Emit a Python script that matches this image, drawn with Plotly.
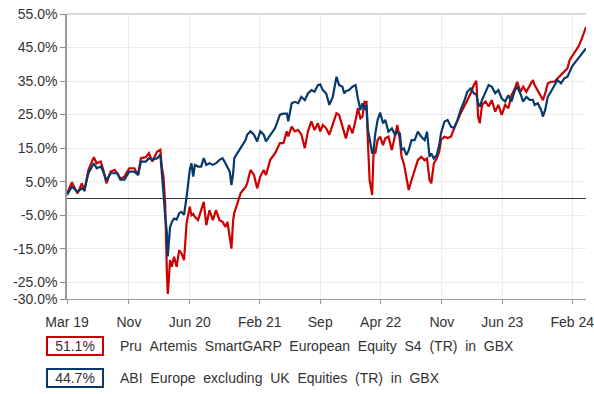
import plotly.graph_objects as go

# Cumulative total return (%) of the fund and its sector average
dates = [
    "2019-03-29", "2019-04-15", "2019-05-05", "2019-05-20", "2019-05-29", "2019-06-12",
    "2019-07-01", "2019-07-11", "2019-07-25", "2019-08-03", "2019-08-14", "2019-08-29",
    "2019-09-12", "2019-09-21", "2019-10-02", "2019-10-16", "2019-11-02", "2019-11-20",
    "2019-12-03", "2019-12-13", "2019-12-30", "2020-01-10", "2020-01-22", "2020-02-08",
    "2020-02-19", "2020-02-24", "2020-03-01", "2020-03-07", "2020-03-13", "2020-03-16",
    "2020-03-18", "2020-03-24", "2020-03-30", "2020-04-07", "2020-04-16", "2020-04-25",
    "2020-05-03", "2020-05-12", "2020-05-21", "2020-06-01", "2020-06-07", "2020-06-13",
    "2020-06-19", "2020-06-30", "2020-07-11", "2020-07-20", "2020-07-29", "2020-08-09",
    "2020-08-21", "2020-09-01", "2020-09-13", "2020-09-24", "2020-10-04", "2020-10-11",
    "2020-10-19", "2020-10-25", "2020-10-31", "2020-11-04", "2020-11-15", "2020-11-26",
    "2020-12-14", "2020-12-19", "2020-12-31", "2021-01-12", "2021-01-23", "2021-02-03",
    "2021-02-15", "2021-02-23", "2021-03-10", "2021-03-27", "2021-04-13", "2021-04-25",
    "2021-05-07", "2021-05-12", "2021-05-24", "2021-06-04", "2021-06-16", "2021-06-27",
    "2021-07-09", "2021-07-20", "2021-08-01", "2021-08-12", "2021-08-24", "2021-09-01",
    "2021-09-10", "2021-09-22", "2021-10-03", "2021-10-15", "2021-10-28", "2021-11-06",
    "2021-11-18", "2021-11-24", "2021-11-30", "2021-12-11", "2021-12-23", "2022-01-03",
    "2022-01-11", "2022-01-20", "2022-01-27", "2022-02-03", "2022-02-10", "2022-02-15",
    "2022-02-21", "2022-03-02", "2022-03-07", "2022-03-13", "2022-03-21", "2022-03-30",
    "2022-04-09", "2022-04-17", "2022-04-28", "2022-05-10", "2022-05-21", "2022-05-29",
    "2022-06-07", "2022-06-13", "2022-06-21", "2022-06-30", "2022-07-08", "2022-07-18",
    "2022-07-29", "2022-08-09", "2022-08-21", "2022-09-02", "2022-09-10", "2022-09-19",
    "2022-09-25", "2022-10-04", "2022-10-14", "2022-10-23", "2022-10-29", "2022-11-10",
    "2022-11-21", "2022-12-03", "2022-12-14", "2022-12-26", "2023-01-06", "2023-01-18",
    "2023-01-29", "2023-02-10", "2023-02-21", "2023-03-02", "2023-03-08", "2023-03-14",
    "2023-03-22", "2023-04-03", "2023-04-14", "2023-04-25", "2023-05-07", "2023-05-18",
    "2023-05-30", "2023-06-11", "2023-06-22", "2023-07-03", "2023-07-15", "2023-07-23",
    "2023-08-03", "2023-08-13", "2023-08-24", "2023-09-05", "2023-09-16", "2023-09-22",
    "2023-10-03", "2023-10-15", "2023-10-21", "2023-10-29", "2023-11-07", "2023-11-18",
    "2023-11-30", "2023-12-11", "2023-12-23", "2024-01-04", "2024-01-15", "2024-01-23",
    "2024-02-01", "2024-02-13", "2024-02-24", "2024-03-07", "2024-03-20",
]

fund_returns = [
    1.5, 4.8, 1.5, 4.5, 2.2, 8.5,
    12.3, 10.5, 11.0, 8.5, 4.5, 8.0,
    8.5, 7.5, 5.9, 6.5, 9.0, 9.0,
    7.0, 12.0, 12.3, 13.5, 11.0, 14.0,
    14.5, 9.5, 6.5, -1.5, -22.5, -28.5,
    -26.5, -18.4, -20.4, -17.4, -20.4, -15.4,
    -16.4, -18.4, -7.4, -2.5, -5.0, -4.6,
    -5.5, -6.5, -3.5, -1.0, -8.0, -3.5,
    -6.5, -3.5, -6.5, -7.0, -8.5, -7.0,
    -11.5, -15.0, -6.5, -4.3, -1.5, 1.5,
    3.5, 4.5, 8.5, 7.0, 3.0, 6.5,
    8.5, 7.0, 11.5, 13.5, 16.5, 16.5,
    20.0, 18.5, 21.4, 20.0, 20.4, 19.0,
    15.0, 20.0, 23.0, 20.4, 22.4, 20.0,
    21.9, 20.9, 19.0, 21.9, 25.4, 24.9,
    21.4, 19.0, 17.9, 21.9, 19.4, 23.4,
    26.9, 23.9, 24.4, 28.8, 28.8, 16.9,
    5.5, 1.0, 14.4, 13.4, 17.4, 18.4,
    15.9, 17.9, 18.4, 14.4, 19.4, 21.9,
    17.4, 12.4, 10.4, 5.5, 2.5, 5.5,
    8.5, 11.4, 12.4, 11.4, 11.9, 5.5,
    4.5, 10.4, 11.9, 13.9, 17.4, 18.4,
    18.0, 18.4, 20.9, 23.4, 25.4, 27.4,
    29.3, 31.3, 33.8, 35.1, 24.4, 22.4,
    27.9, 28.9, 27.4, 29.3, 25.9, 27.9,
    24.9, 27.9, 26.9, 30.8, 32.8, 34.8,
    31.8, 33.3, 31.8, 33.8, 35.3, 33.8,
    32.3, 30.3, 29.3, 31.3, 34.3, 34.8,
    34.8, 35.8, 36.8, 37.8, 38.8, 41.3,
    42.5, 44.0, 45.5, 48.0, 51.1,
]

sector_returns = [
    1.0, 3.5, 2.0, 3.0, 2.5, 7.5,
    10.5, 9.0, 9.5, 8.0, 5.4, 7.5,
    7.5, 7.5, 5.6, 5.6, 8.0, 8.0,
    7.0, 11.0, 11.0, 12.0, 11.5, 12.0,
    13.0, 8.5, 1.5, -5.5, -10.3, -17.3,
    -14.3, -8.6, -7.1, -6.0, -6.3, -4.4,
    -4.0, -4.9, 0.5, 8.5, 10.5, 6.5,
    10.0, 9.5, 9.5, 12.0, 10.0, 10.5,
    10.0, 10.5, 11.5, 12.0, 10.5, 9.5,
    8.0, 4.0, 7.5, 12.0, 13.5, 15.0,
    17.5, 19.0, 20.0, 19.0, 17.0, 20.0,
    19.0, 17.0, 19.0, 21.0, 25.0, 25.3,
    25.3, 23.0, 28.4, 28.8, 28.4, 30.3,
    29.3, 31.3, 32.3, 31.8, 33.8, 34.0,
    32.3, 31.3, 27.9, 30.3, 36.3, 33.8,
    33.3, 31.3, 32.0, 32.3, 33.3, 33.8,
    29.8, 26.4, 28.4, 26.4, 27.9, 20.4,
    17.9, 13.4, 14.4, 19.4, 23.4, 25.6,
    22.4, 23.4, 19.9, 20.9, 18.9, 19.9,
    19.4, 14.4, 14.9, 12.9, 14.4, 17.4,
    17.4, 19.9, 18.4, 17.4, 19.9, 12.4,
    13.4, 11.9, 12.9, 15.9, 19.4, 22.9,
    23.4, 21.4, 21.0, 23.4, 26.4, 28.9,
    31.8, 32.8, 31.4, 30.9, 28.4, 27.4,
    29.4, 31.8, 33.8, 33.3, 31.4, 32.3,
    29.8, 28.9, 30.8, 28.9, 32.3, 33.3,
    31.3, 28.9, 30.3, 29.4, 29.4, 27.9,
    28.4, 26.4, 24.4, 26.4, 30.3, 31.8,
    33.8, 35.3, 34.3, 35.8, 36.3, 37.8,
    39.5, 40.8, 42.0, 43.5, 44.7,
]

series_names = [
    "Pru Artemis SmartGARP European Equity S4 (TR) in GBX",
    "ABI Europe excluding UK Equities (TR) in GBX",
]
series_colors = ["#cc0000", "#073a6c"]

x_tick_dates = ["2019-03-29", "2019-11-01", "2020-06-01", "2021-02-01", "2021-09-01",
                "2022-04-01", "2022-11-01", "2023-06-01", "2024-02-01"]
x_tick_labels = ["Mar 19", "Nov", "Jun 20", "Feb 21", "Sep", "Apr 22", "Nov", "Jun 23", "Feb 24"]
y_tick_values = [-30, -25, -15, -5, 5, 15, 25, 35, 45, 55]
y_tick_labels = [f"{v:.1f}%" for v in y_tick_values]

FONT = "Liberation Sans, Arial, sans-serif"

fig = go.Figure()
for values, name, color in zip([fund_returns, sector_returns], series_names, series_colors):
    fig.add_trace(go.Scatter(
        x=dates, y=values, name=name, mode="lines",
        line=dict(color=color, width=2.2),
        hoverinfo="skip",
    ))

fig.update_layout(
    width=594, height=394,
    margin=dict(l=67, r=0, t=14, b=95),
    paper_bgcolor="white", plot_bgcolor="white",
    showlegend=False,
    font=dict(family=FONT, size=14, color="#333333"),
)

fig.update_xaxes(
    type="date", range=["2019-03-29", "2024-03-20"],
    tickmode="array", tickvals=x_tick_dates, ticktext=x_tick_labels,
    showgrid=True, gridcolor="#ebebeb", gridwidth=1,
    ticks="outside", ticklen=4, tickcolor="#999999",
    showline=True, linecolor="#999999", linewidth=1,
    ticklabelstandoff=6, ticklabeloverflow="allow",
    tickfont=dict(family=FONT, size=14, color="#333333"),
    zeroline=False,
)

fig.update_yaxes(
    range=[-30, 55],
    tickmode="array", tickvals=y_tick_values, ticktext=y_tick_labels,
    showgrid=True, gridcolor="#ebebeb", gridwidth=1,
    ticks="outside", ticklen=5, tickcolor="#888888",
    showline=True, linecolor="#999999", linewidth=1.5,
    zeroline=True, zerolinecolor="#333333", zerolinewidth=1,
    tickfont=dict(family=FONT, size=14, color="#333333"),
)

# top frame line of the plotting area
fig.add_shape(type="line", xref="paper", yref="paper", x0=0, x1=1, y0=1, y1=1,
              line=dict(color="#d9d9d9", width=2))

# key below the chart: final return in a coloured box, followed by the series name
final_values = [fund_returns[-1], sector_returns[-1]]
for i, (val, name, color) in enumerate(zip(final_values, series_names, series_colors)):
    yshift = -47 - 32 * i
    fig.add_annotation(
        x=0, y=0, xref="paper", yref="paper", xanchor="center", yanchor="middle",
        xshift=8, yshift=yshift, showarrow=False,
        text=f"{val:.1f}%", width=50, height=12, borderpad=2,
        bordercolor=color, borderwidth=2, bgcolor="white",
        font=dict(family=FONT, size=14, color="#333333"),
    )
    fig.add_annotation(
        x=0, y=0, xref="paper", yref="paper", xanchor="left", yanchor="middle",
        xshift=51, yshift=yshift, showarrow=False,
        text=name.replace(" ", " \u00a0"),
        font=dict(family=FONT, size=14, color="#333333"),
    )

fig.write_html("out.html")
